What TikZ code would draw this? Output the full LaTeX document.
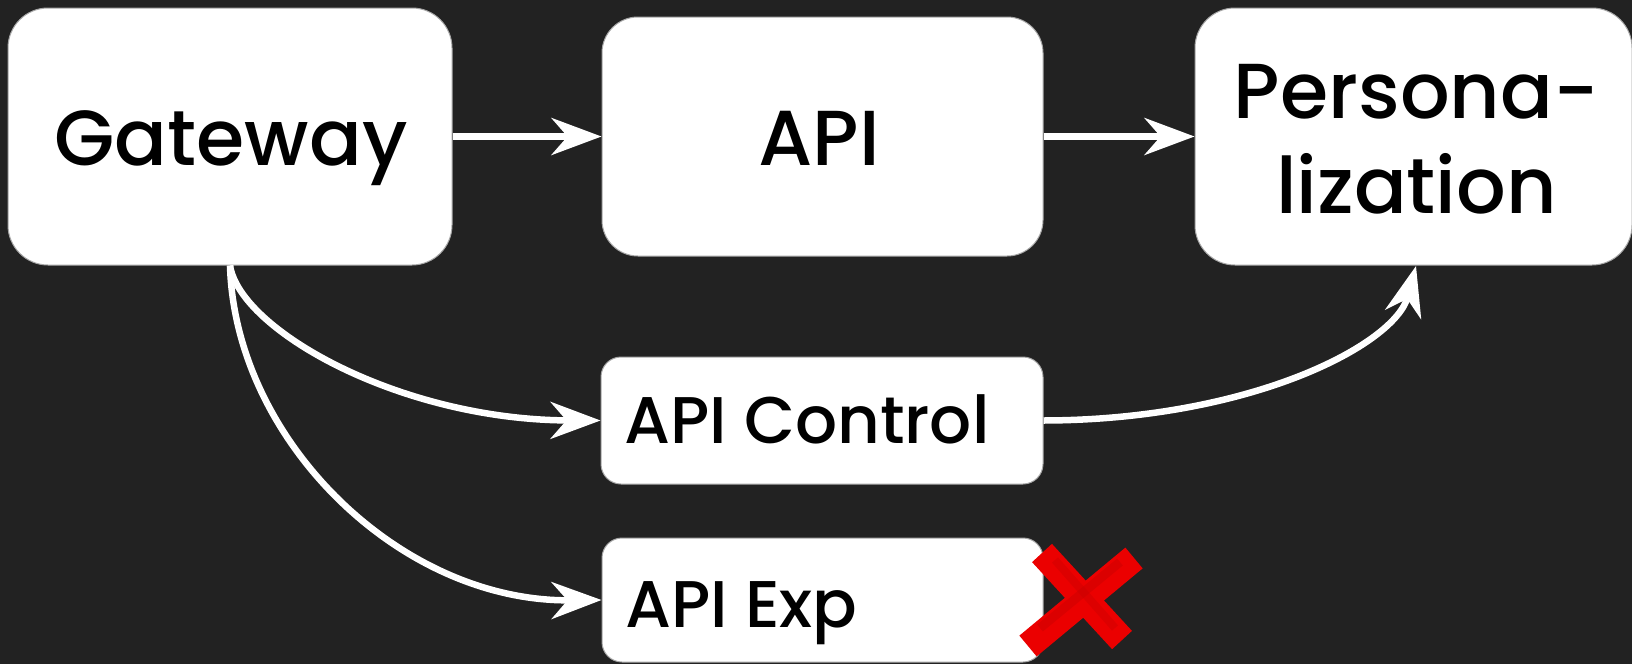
\documentclass[tikz,border=0pt]{standalone}
\usepackage{fontspec}
\setmainfont{Poppins}[UprightFont=* Medium]
\usetikzlibrary{arrows.meta}
\definecolor{bg}{RGB}{34,34,34}
\definecolor{xred}{RGB}{235,0,0}
\definecolor{xdark}{RGB}{200,0,0}
\tikzset{
  box/.style={draw=gray!70, line width=1pt, fill=white, inner sep=0pt, rounded corners=#1},
  box/.default=40pt,
  bigtxt/.style={anchor=base, inner sep=0pt, text=black, font=\fontsize{78}{95}\selectfont},
  smalltxt/.style={anchor=base west, inner sep=0pt, text=black, font=\fontsize{66}{76}\selectfont},
  conn/.style={draw=white, line width=6.5pt, -{Stealth[length=50pt, width=37pt, inset=16pt]}},
  brush/.style={line width=27pt, line cap=butt}
}
\begin{document}
\begin{tikzpicture}[x=1pt,y=-1pt]
\fill[bg] (0,0) rectangle (1632,664);
\useasboundingbox (0,0) rectangle (1632,664);

% boxes
\node[box, minimum width=444pt, minimum height=257pt] (gw) at (230,136.5) {};
\node[box=36pt, minimum width=441pt, minimum height=239pt] (api) at (822.5,136.5) {};
\node[box, minimum width=437pt, minimum height=257pt] (per) at (1413.5,136.5) {};
\node[box=20pt, minimum width=442pt, minimum height=127pt] (ctl) at (822,420.5) {};
\node[box=20pt, minimum width=441pt, minimum height=124pt] (exp) at (822.5,600) {};

% texts
\node[bigtxt] (gwt) at (231,165) {Gateway};
\node[bigtxt] (apit) at (819,165) {API};
\node[bigtxt] (pert1) at (1416.5,118) {Persona-};
\node[bigtxt] (pert2) at (1416.5,213) {lization};
\node[smalltxt] (ctlt) at (624,443) {API Control};
\node[smalltxt] (expt) at (625,627) {API Exp};

% connectors
\draw[conn] (gw.east) -- (api.west);
\draw[conn] (api.east) -- (per.west);
\draw[conn] (gw.south) .. controls (240,330) and (400,420) .. (ctl.west);
\draw[conn] (gw.south) .. controls (235,440) and (400,602) .. (exp.west);
\coordinate (perin) at (1416,266);
\draw[conn] (ctl.east) .. controls (1250,420) and (1395,345) .. (perin);

% red cross
\draw[brush, xred] (1028,646) -- (1134,558);
\draw[brush, xred] (1042,553) -- (1122,640);
\draw[line width=9pt, xdark, opacity=0.45] (1040,628) -- (1120,562);
\draw[line width=8pt, xdark, opacity=0.4] (1055,560) -- (1115,628);
\end{tikzpicture}
\end{document}
